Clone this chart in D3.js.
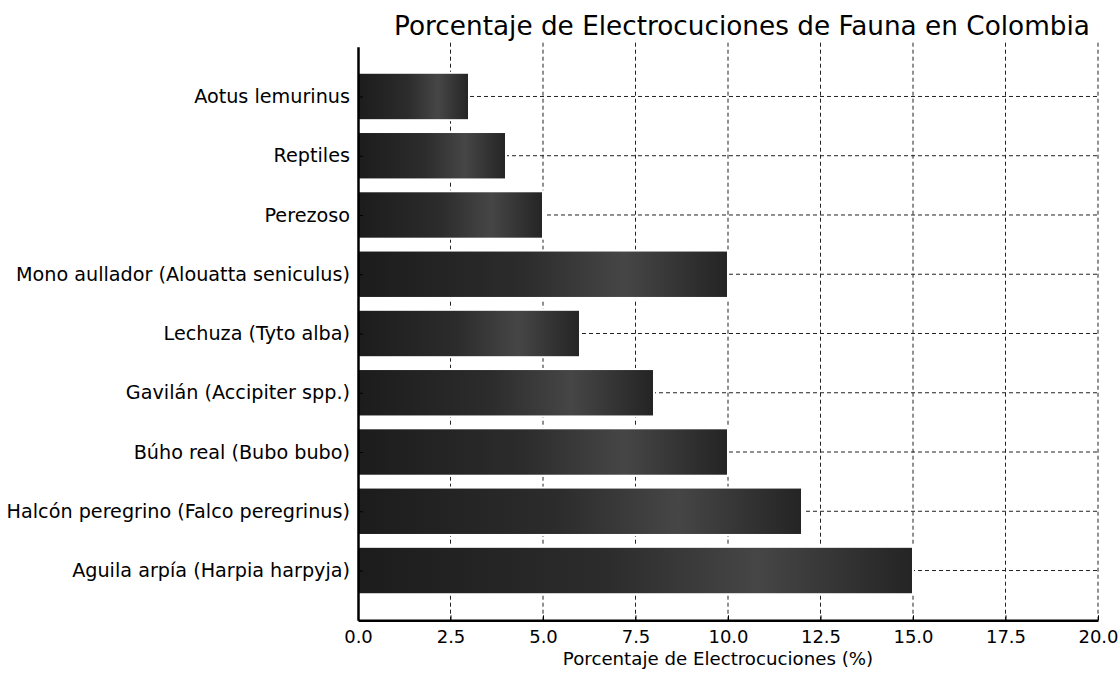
<!DOCTYPE html>
<html><head><meta charset="utf-8">
<script src="https://cdn.jsdelivr.net/npm/d3@7/dist/d3.min.js"></script>
<style>body{margin:0;background:#fff} text{font-family:"DejaVu Sans",sans-serif;fill:#000}</style>
</head><body><svg id="c" width="1120" height="673"></svg>
<script>
const categories = ["Aguila arpía (Harpia harpyja)", "Halcón peregrino (Falco peregrinus)", "Búho real (Bubo bubo)", "Gavilán (Accipiter spp.)", "Lechuza (Tyto alba)", "Mono aullador (Alouatta seniculus)", "Perezoso", "Reptiles", "Aotus lemurinus"];
const values = [15, 12, 10, 8, 6, 10, 5, 4, 3];
const xTicks = [0, 2.5, 5, 7.5, 10, 12.5, 15, 17.5, 20];
const titleText = "Porcentaje de Electrocuciones de Fauna en Colombia";
const xLabelText = "Porcentaje de Electrocuciones (%)";

const svg = d3.select("#c");
const L = 358, R = 1098, T = 46.7, B = 620.3;
const x = d3.scaleLinear().domain([0, 20]).range([L, R]);
const y = d3.scaleLinear().domain([-0.84, categories.length - 1 + 0.84]).range([B, T]);

const defs = svg.append("defs");
const g = defs.append("linearGradient").attr("id", "bg").attr("x1", 0).attr("x2", 1).attr("y1", 0).attr("y2", 0);
g.append("stop").attr("offset", "0%").attr("stop-color", "#1c1c1c");
g.append("stop").attr("offset", "45%").attr("stop-color", "#2c2c2c");
g.append("stop").attr("offset", "72%").attr("stop-color", "#464646");
g.append("stop").attr("offset", "100%").attr("stop-color", "#242424");

// grid
const grid = svg.append("g").attr("stroke", "#222").attr("stroke-width", 1).attr("stroke-dasharray", "4,3");
grid.selectAll("line.v").data(xTicks.slice(1)).join("line")
  .attr("x1", d => x(d)).attr("x2", d => x(d)).attr("y1", T - 4).attr("y2", B);
grid.selectAll("line.h").data(categories).join("line")
  .attr("x1", L).attr("x2", R).attr("y1", (d, i) => y(i)).attr("y2", (d, i) => y(i));

// bars
svg.append("g").selectAll("rect").data(values).join("rect")
  .attr("x", x(0))
  .attr("y", (d, i) => y(i + 0.4))
  .attr("width", d => x(d) - x(0))
  .attr("height", (d, i) => y(i - 0.4) - y(i + 0.4))
  .attr("fill", "url(#bg)")
  .attr("stroke", "#fff").attr("stroke-width", 2);

// axes
const xAxis = d3.axisBottom(x).tickValues(xTicks).tickFormat(d3.format(".1f")).tickSizeInner(-5).tickSizeOuter(0).tickPadding(10);
const gx = svg.append("g").attr("transform", `translate(0,${B})`).call(xAxis);
gx.select(".domain").attr("stroke", "#000").attr("stroke-width", 2.5);
gx.selectAll(".tick line").attr("stroke", "#000").attr("stroke-width", 1);
gx.selectAll(".tick text").style("font-size", "18px").style("font-family", "DejaVu Sans");

const yAxis = d3.axisLeft(y).tickValues(d3.range(categories.length)).tickFormat(i => categories[i]).tickSizeInner(-5).tickSizeOuter(0).tickPadding(8);
const gy = svg.append("g").attr("transform", `translate(${L},0)`).call(yAxis);
gy.select(".domain").attr("stroke", "#000").attr("stroke-width", 2.5);
gy.selectAll(".tick line").attr("stroke", "#000").attr("stroke-width", 1);
gy.selectAll(".tick text").style("font-size", "19.2px").style("font-family", "DejaVu Sans");

svg.append("text").attr("x", 742).attr("y", 35).attr("text-anchor", "middle")
  .style("font-size", "26.3px").text(titleText);
svg.append("text").attr("x", 718).attr("y", 665).attr("text-anchor", "middle")
  .style("font-size", "18.2px").text(xLabelText);
</script></body></html>
